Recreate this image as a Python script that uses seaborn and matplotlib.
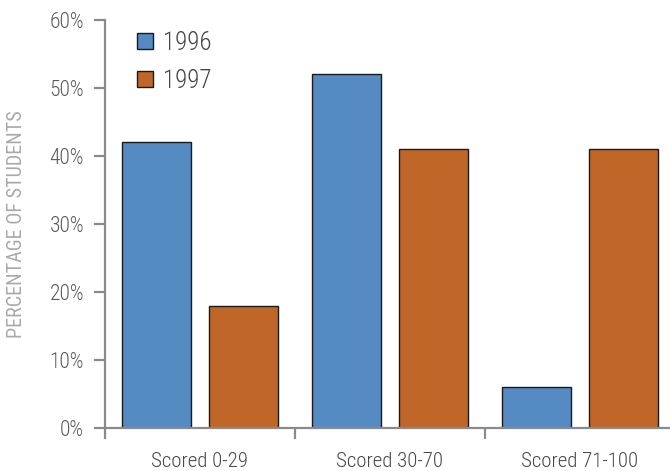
import matplotlib
matplotlib.use("Agg")
import matplotlib.pyplot as plt
from matplotlib.ticker import FixedLocator, PercentFormatter
import seaborn as sns
import pandas as pd

categories = ["Scored 0-29", "Scored 30-70", "Scored 71-100"]
years = ["1996", "1997"]
values_1996 = [42, 52, 6]
values_1997 = [18, 41, 41]
y_ticks = [0, 10, 20, 30, 40, 50, 60]
y_label = "PERCENTAGE OF STUDENTS"

df = pd.DataFrame({
    "category": categories * 2,
    "year": [years[0]] * 3 + [years[1]] * 3,
    "value": values_1996 + values_1997,
})

sns.set_style("white")
plt.rcParams["font.family"] = ["Roboto Condensed", "DejaVu Sans"]
plt.rcParams["font.weight"] = "light"

fig = plt.figure(figsize=(6.70, 4.71), dpi=100)
ax = fig.add_axes([105 / 670, 43 / 471, 565 / 670, 408 / 471])

palette = {"1996": "#558BC2", "1997": "#C06628"}
sns.barplot(data=df, x="category", y="value", hue="year", palette=palette,
            width=0.908, gap=0.2, edgecolor="#1a1a1a", linewidth=1.0,
            saturation=1, ax=ax)

ax.set_xlim(-0.5, 2.474)
ax.set_ylim(0, 60)
axis_gray = "#8a8a8a"
for s in ["top", "right"]:
    ax.spines[s].set_visible(False)
for s in ["left", "bottom"]:
    ax.spines[s].set_color(axis_gray)
    ax.spines[s].set_linewidth(1.6)

ax.yaxis.set_major_locator(FixedLocator(y_ticks))
ax.yaxis.set_major_formatter(PercentFormatter(decimals=0))
ax.tick_params(axis="y", which="major", direction="out", length=8, width=1.6,
               color=axis_gray, labelcolor="#5a5a5a", labelsize=15.5, pad=7, left=True)

ax.set_xticks([0, 1, 2])
ax.set_xticklabels(categories)
ax.set_xticks([-0.5, 0.5, 1.5], minor=True)
ax.tick_params(axis="x", which="major", length=0, labelcolor="#484848",
               labelsize=15, pad=17)
ax.tick_params(axis="x", which="minor", direction="out", length=8, width=1.6,
               color=axis_gray, bottom=True)

ax.set_xlabel("")
ax.set_ylabel(y_label, color="#aaaaaa", fontsize=14.5)
ax.yaxis.label.set_va("center")
ax.yaxis.set_label_coords((17 - 105) / 565, 0.5)

leg = ax.legend(loc="upper left", bbox_to_anchor=((137 - 105) / 565, 0.973),
                frameon=False, fontsize=18, borderpad=0, borderaxespad=0,
                handlelength=0.64, handleheight=0.64,
                handletextpad=0.4, labelspacing=0.56, title=None)
for t in leg.get_texts():
    t.set_color("#444444")
for h in leg.legend_handles:
    h.set_edgecolor("#1a1a1a")
    h.set_linewidth(1.0)

fig.savefig("out.png", dpi=100)
